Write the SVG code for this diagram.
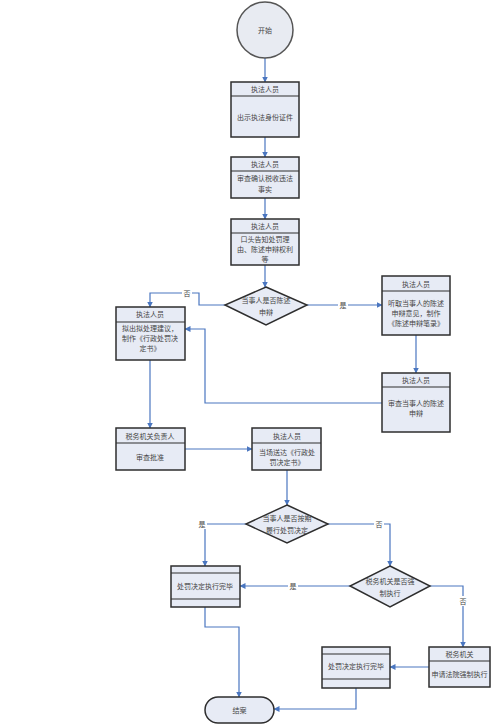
<svg xmlns="http://www.w3.org/2000/svg" width="500" height="725" viewBox="0 0 500 725">
<style>
.box{fill:#e7ebf5;stroke:#2e2e2e;stroke-width:1.5}
.sep{stroke:#2e2e2e;stroke-width:1.2}
.t{font-family:"Noto Sans CJK SC","Liberation Serif",serif;font-size:7px;fill:#444;text-anchor:middle}
.c{fill:none;stroke:#4a76c0;stroke-width:1.2}
.lb{fill:#fff}
</style>
<defs>
<marker id="ah" markerWidth="6" markerHeight="6" refX="5.5" refY="3" orient="auto" markerUnits="userSpaceOnUse">
<path d="M0,0 L6,3 L0,6 Z" fill="#4a76c0"/>
</marker>
</defs>
<rect width="500" height="725" fill="#fff"/>
<g id="connectors">
<path class="c" d="M265,58 V82" marker-end="url(#ah)"/>
<path class="c" d="M265,137 V157" marker-end="url(#ah)"/>
<path class="c" d="M265,198 V219" marker-end="url(#ah)"/>
<path class="c" d="M265,265 V287" marker-end="url(#ah)"/>
<path class="c" d="M225,305 H199 V293 H150 V307" marker-end="url(#ah)"/>
<path class="c" d="M307,305 H382" marker-end="url(#ah)"/>
<path class="c" d="M416,335 V373" marker-end="url(#ah)"/>
<path class="c" d="M382,403 H205 V329 H185" marker-end="url(#ah)"/>
<path class="c" d="M150,360 V428" marker-end="url(#ah)"/>
<path class="c" d="M185,449 H252" marker-end="url(#ah)"/>
<path class="c" d="M287,470 V505" marker-end="url(#ah)"/>
<path class="c" d="M246,524 H205 V566" marker-end="url(#ah)"/>
<path class="c" d="M328,524 H390 V566" marker-end="url(#ah)"/>
<path class="c" d="M350,586 H240" marker-end="url(#ah)"/>
<path class="c" d="M430,586 H463 V647" marker-end="url(#ah)"/>
<path class="c" d="M205,607 V627 H239 V697" marker-end="url(#ah)"/>
<path class="c" d="M429,667 H390" marker-end="url(#ah)"/>
<path class="c" d="M356,688 V709 H274" marker-end="url(#ah)"/>
<rect class="lb" x="182" y="288" width="10" height="10"/><text class="t" x="187" y="296">否</text>
<rect class="lb" x="338" y="300" width="10" height="10"/><text class="t" x="343" y="308">是</text>
<rect class="lb" x="197" y="519" width="10" height="10"/><text class="t" x="202" y="527">是</text>
<rect class="lb" x="374" y="519" width="10" height="10"/><text class="t" x="379" y="527">否</text>
<rect class="lb" x="288" y="581" width="10" height="10"/><text class="t" x="293" y="589">是</text>
<rect class="lb" x="458" y="596" width="10" height="10"/><text class="t" x="463" y="604">否</text>
</g>
<g id="start">
<circle cx="265" cy="30" r="28" fill="#e8ebf2" stroke="#555" stroke-width="1.5"/>
<text class="t" x="265" y="33">开始</text>
</g>
<g id="n1">
<rect class="box" x="231" y="82" width="68" height="55"/>
<line class="sep" x1="231" y1="96" x2="299" y2="96"/>
<text class="t" x="265" y="92">执法人员</text>
<text class="t" x="265" y="120">出示执法身份证件</text>
</g>
<g id="n2">
<rect class="box" x="231" y="157" width="68" height="41"/>
<line class="sep" x1="231" y1="171" x2="299" y2="171"/>
<text class="t" x="265" y="167">执法人员</text>
<text class="t" x="265" y="181">审查确认税收违法</text>
<text class="t" x="265" y="192">事实</text>
</g>
<g id="n3">
<rect class="box" x="231" y="219" width="68" height="46"/>
<line class="sep" x1="231" y1="233" x2="299" y2="233"/>
<text class="t" x="265" y="229">执法人员</text>
<text class="t" x="265" y="242">口头告知处罚理</text>
<text class="t" x="265" y="252">由、陈述申辩权利</text>
<text class="t" x="265" y="262">等</text>
</g>
<g id="d1">
<polygon class="box" points="266,287 307,305 266,325 225,305"/>
<text class="t" x="266" y="303">当事人是否陈述</text>
<text class="t" x="266" y="315">申辩</text>
</g>
<g id="n4">
<rect class="box" x="116" y="307" width="69" height="53"/>
<line class="sep" x1="116" y1="322" x2="185" y2="322"/>
<text class="t" x="150" y="317">执法人员</text>
<text class="t" x="150" y="331">拟出拟处理建议，</text>
<text class="t" x="150" y="341">制作《行政处罚决</text>
<text class="t" x="150" y="351">定书》</text>
</g>
<g id="n5">
<rect class="box" x="382" y="276" width="68" height="59"/>
<line class="sep" x1="382" y1="291" x2="450" y2="291"/>
<text class="t" x="416" y="287">执法人员</text>
<text class="t" x="416" y="306">听取当事人的陈述</text>
<text class="t" x="416" y="316">申辩意见，制作</text>
<text class="t" x="416" y="326">《陈述申辩笔录》</text>
</g>
<g id="n6">
<rect class="box" x="382" y="373" width="68" height="59"/>
<line class="sep" x1="382" y1="387" x2="450" y2="387"/>
<text class="t" x="416" y="383">执法人员</text>
<text class="t" x="416" y="406">审查当事人的陈述</text>
<text class="t" x="416" y="416">申辩</text>
</g>
<g id="n7">
<rect class="box" x="116" y="428" width="69" height="42"/>
<line class="sep" x1="116" y1="443" x2="185" y2="443"/>
<text class="t" x="150" y="439">税务机关负责人</text>
<text class="t" x="150" y="460">审查批准</text>
</g>
<g id="n8">
<rect class="box" x="252" y="428" width="69" height="42"/>
<line class="sep" x1="252" y1="443" x2="321" y2="443"/>
<text class="t" x="287" y="439">执法人员</text>
<text class="t" x="287" y="455">当场送达《行政处</text>
<text class="t" x="287" y="465">罚决定书》</text>
</g>
<g id="d2">
<polygon class="box" points="287,505 328,524 287,543 246,524"/>
<text class="t" x="287" y="521">当事人是否按期</text>
<text class="t" x="287" y="533">履行处罚决定</text>
</g>
<g id="d3">
<polygon class="box" points="390,566 430,586 390,607 350,586"/>
<text class="t" x="390" y="584">税务机关是否强</text>
<text class="t" x="390" y="596">制执行</text>
</g>
<g id="n9">
<rect class="box" x="171" y="566" width="69" height="41"/>
<line class="sep" x1="171" y1="573" x2="240" y2="573"/>
<line class="sep" x1="171" y1="599" x2="240" y2="599"/>
<text class="t" x="205" y="589">处罚决定执行完毕</text>
</g>
<g id="n10">
<rect class="box" x="322" y="647" width="68" height="41"/>
<line class="sep" x1="322" y1="654" x2="390" y2="654"/>
<line class="sep" x1="322" y1="679" x2="390" y2="679"/>
<text class="t" x="356" y="669">处罚决定执行完毕</text>
</g>
<g id="n11">
<rect class="box" x="429" y="647" width="61" height="40"/>
<line class="sep" x1="429" y1="661" x2="490" y2="661"/>
<text class="t" x="459.5" y="657">税务机关</text>
<text class="t" x="459.5" y="677">申请法院强制执行</text>
</g>
<g id="end">
<rect class="box" x="205" y="697" width="69" height="26" rx="13" ry="13"/>
<text class="t" x="239.5" y="713">结案</text>
</g>
</svg>
